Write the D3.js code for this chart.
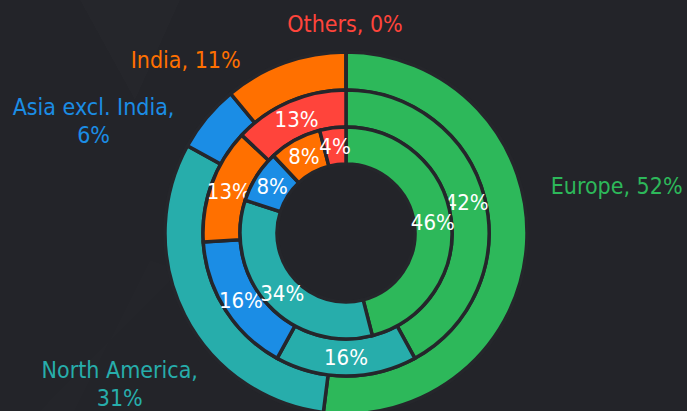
<!DOCTYPE html>
<html>
<head>
<meta charset="utf-8">
<script src="https://cdn.jsdelivr.net/npm/d3@7"></script>
<style>
  body { margin: 0; background: #232429; }
  svg { display: block; font-family: "DejaVu Sans Condensed", "DejaVu Sans", sans-serif; font-stretch: condensed; }
</style>
</head>
<body>
<div id="chart"></div>
<script>
// Regions, in clockwise order from 12 o'clock
const regions = ["Europe", "North America", "Asia excl. India", "India", "Others"];

// Share (%) per ring, outer to inner
const outerShare = [52, 31, 6, 11, 0];
const middleShare = [42, 16, 16, 13, 13];
const innerShare = [46, 34, 8, 8, 4];

const colors = ["#2db85a", "#27adab", "#1b8de5", "#ff7000", "#ff443b"];

const width = 687, height = 411;
const cx = 346, cy = 233;

// where the outer labels sit relative to the edge of their slice
const labelNudge = {
    "Europe": [90, -59],
    "North America": [-65, 68],
    "Asia excl. India": [-113, 3],
    "India": [-99, -3],
    "Others": [-1, -28]
};

const rings = [
    {values: outerShare, inner: 143, outer: 181, inside: false},
    {values: middleShare, inner: 106, outer: 143, inside: true},
    {values: innerShare, inner: 69, outer: 106, inside: true}
];

const svg = d3.select("#chart")
    .append("svg")
    .attr("width", width)
    .attr("height", height);

svg.append("rect")
    .attr("width", width)
    .attr("height", height)
    .attr("fill", "#232429");

// faint background shapes
svg.append("path")
    .attr("d", "M80,0 L180,0 L135,100 Z")
    .attr("fill", "#ffffff")
    .attr("opacity", 0.01);
svg.append("path")
    .attr("d", "M0,560 L150,260 L180,270 L40,411 Z")
    .attr("fill", "#ffffff")
    .attr("opacity", 0.007);

const g = svg.append("g")
    .attr("transform", "translate(" + cx + "," + cy + ")");

const pie = d3.pie().sort(null).value(function(d) { return d; });

rings.forEach(function(ring) {
    const arc = d3.arc().innerRadius(ring.inner).outerRadius(ring.outer);
    const slices = pie(ring.values);

    g.selectAll(null)
        .data(slices)
        .enter()
        .append("path")
        .attr("d", arc)
        .attr("fill", function(d, i) { return colors[i]; })
        .attr("stroke", "#25262b")
        .attr("stroke-width", 3.5);

    if (ring.inside) {
        g.selectAll(null)
            .data(slices.filter(function(d) { return d.value > 0; }))
            .enter()
            .append("text")
            .attr("transform", function(d) { return "translate(" + arc.centroid(d) + ")"; })
            .attr("text-anchor", "middle")
            .attr("dy", "0.36em")
            .attr("fill", "#ffffff")
            .style("font-size", "22px")
            .text(function(d) { return d.value + "%"; });
    }
});

// outside labels for the outer ring
const outer = rings[0];
const edge = d3.arc().innerRadius(outer.outer).outerRadius(outer.outer);
pie(outer.values).forEach(function(d, i) {
    const name = regions[i];
    const p = edge.centroid(d);
    const nudge = labelNudge[name];
    const x = p[0] + nudge[0], y = p[1] + nudge[1];
    const lines = name.length > 10 ? [name + ",", d.value + "%"] : [name + ", " + d.value + "%"];
    const lineH = 28;
    const firstBase = lines.length === 1 ? y + 8.4 : y - 5.6;

    const t = g.append("text")
        .attr("text-anchor", "middle")
        .attr("fill", colors[i])
        .style("font-size", "23px");
    lines.forEach(function(line, k) {
        t.append("tspan")
            .attr("x", x)
            .attr("y", firstBase + k * lineH)
            .text(line);
    });
});
</script>
</body>
</html>
